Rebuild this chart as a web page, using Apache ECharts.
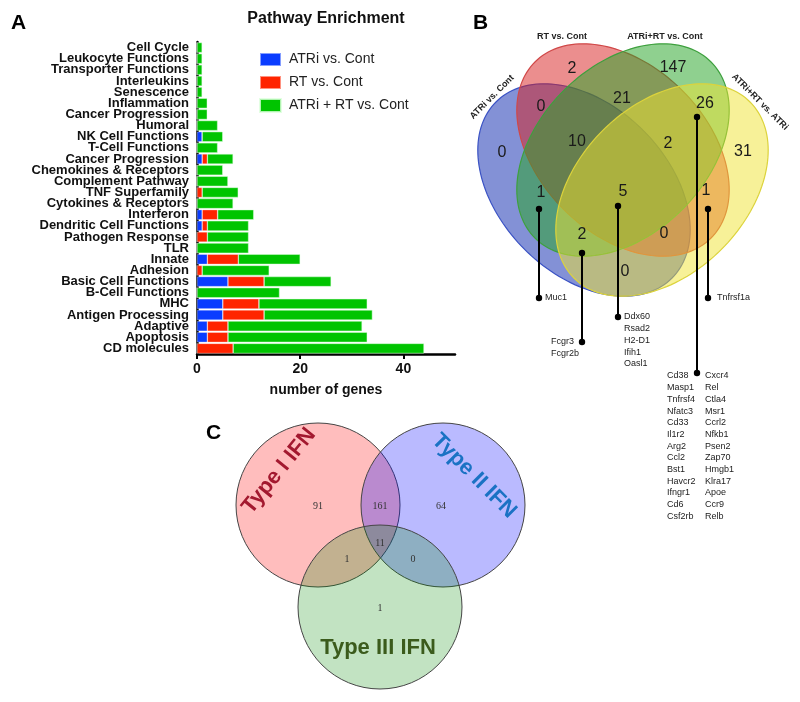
<!DOCTYPE html>
<html><head><meta charset="utf-8">
<script src="https://cdn.jsdelivr.net/npm/echarts@6/dist/echarts.min.js"></script>
<style>html,body{margin:0;padding:0;background:#fff}#c{width:800px;height:702px}</style>
</head><body><div id="c"></div>
<script>
// ---------- Panel A data ----------
const categories = ['Cell Cycle','Leukocyte Functions','Transporter Functions','Interleukins','Senescence','Inflammation','Cancer Progression','Humoral','NK Cell Functions','T-Cell Functions','Cancer Progression','Chemokines & Receptors','Complement Pathway','TNF Superfamily','Cytokines & Receptors','Interferon','Dendritic Cell Functions','Pathogen Response','TLR','Innate','Adhesion','Basic Cell Functions','B-Cell Functions','MHC','Antigen Processing','Adaptive','Apoptosis','CD molecules'];
const atriVsCont  = [0,0,0,0,0,0,0,0,1,0,1,0,0,0,0,1,1,0,0,2,0,6,0,5,5,2,2,0];
const rtVsCont    = [0,0,0,0,0,0,0,0,0,0,1,0,0,1,0,3,1,2,0,6,1,7,0,7,8,4,4,7];
const comboVsCont = [1,1,1,1,1,2,2,4,4,4,5,5,6,7,7,7,8,8,10,12,13,13,16,21,21,26,27,37];
const seriesNames = ['ATRi vs. Cont','RT vs. Cont','ATRi + RT vs. Cont'];
const xTicks = [0,20,40];

// ---------- Panel B data ----------
const vennBSets = ['ATRi vs. Cont','RT vs. Cont','ATRi+RT vs. Cont','ATRi+RT vs. ATRi'];
const vennBRegions = ['A','B','C','D','AB','BC','CD','ABC','BCD','AC','ABCD','BD','ACD','ABD','AD'];
const vennBCounts  = [0,2,147,31,0,21,26,10,2,1,5,1,2,0,0];
const genesAC   = ['Muc1'];
const genesACD  = ['Fcgr3','Fcgr2b'];
const genesABCD = ['Ddx60','Rsad2','H2-D1','Ifih1','Oasl1'];
const genesBD   = ['Tnfrsf1a'];
const genesCD   = ['Cd38','Masp1','Tnfrsf4','Nfatc3','Cd33','Il1r2','Arg2','Ccl2','Bst1','Havcr2','Ifngr1','Cd6','Csf2rb',
                   'Cxcr4','Rel','Ctla4','Msr1','Ccrl2','Nfkb1','Psen2','Zap70','Hmgb1','Klra17','Apoe','Ccr9','Relb'];

// ---------- Panel C data ----------
const vennCSets = ['Type I IFN','Type II IFN','Type III IFN'];
const vennCRegions = ['I','II','I&II','I&II&III','I&III','II&III','III'];
const vennCCounts  = [91,64,161,11,1,0,1];

// ---------- layout (diagram geometry, not data) ----------
const FONT = '"Liberation Sans", Arial, Helvetica, sans-serif';
const ellB = [ // cx, cy, a, b, angle, styleIdx   (panel-B local units)
  [124,190,124.5,84,45,0],[163,150,124.5,84,45,1],[163,150,124.5,84,-45,2],[202,190,124.5,84,-45,3]];
const ellBFill = ['rgba(30,55,180,0.55)','rgba(215,30,30,0.5)','rgba(40,165,40,0.52)','rgba(240,228,50,0.5)'];
const ellBStroke = ['#3a52c4','#d04848','#3ea03e','#dcd33c'];
const vennBRegionPos = {A:[42,153],B:[112,69],C:[213,68],D:[283,152],AB:[81,107],BC:[162,99],CD:[245,104],ABC:[117,142],BCD:[208,144],AC:[81,193],ABCD:[163,192],BD:[246,191],ACD:[122,235],ABD:[204,234],AD:[165,272]};
const vennBSetLabelPos = [[32,97,45],[102,37,0],[205,37,0],[300,102,-45]];
const leaders = [
  {x:79, y0:209, y1:298, genes:genesAC, lx:85, ly:298, align:'left'},
  {x:122, y0:253, y1:342, genes:genesACD, lx:91, ly:342, align:'left'},
  {x:158, y0:206, y1:317, genes:genesABCD, lx:164, ly:317, align:'left'},
  {x:248, y0:209, y1:298, genes:genesBD, lx:257, ly:298, align:'left'},
  {x:237, y0:117, y1:373, genes:genesCD, lx:207, ly:376, align:'cols'}
];
const circC = [[118,105,82,0],[243,105,82,1],[180,207,82,2]];
const circCFill = ['rgba(255,0,0,0.26)','rgba(0,0,255,0.27)','rgba(0,140,0,0.24)'];
const vennCRegionPos = {'I':[118,106],'II':[241,106],'I&II':[180,106],'I&II&III':[180,143],'I&III':[147,159],'II&III':[213,159],'III':[180,208]};
const vennCSetLabelPos = [[79,71,51,'#a3192f'],[274,76,-45,'#1a72c4'],[178,248,0,'#3b5b1c']];

const chart = echarts.init(document.getElementById('c'));

function ellipseRender(params, api){
  const cx=api.value(0), cy=api.value(1), a=api.value(2), b=api.value(3), ang=api.value(4)*Math.PI/180, s=api.value(5);
  const pts=[];
  for(let i=0;i<160;i++){const t=i/160*2*Math.PI;const ex=a*Math.cos(t),ey=b*Math.sin(t);
    pts.push(api.coord([cx+ex*Math.cos(ang)-ey*Math.sin(ang), cy+ex*Math.sin(ang)+ey*Math.cos(ang)]));}
  return {type:'polygon',shape:{points:pts},style:{fill:ellBFill[s],stroke:ellBStroke[s],lineWidth:1.2}};
}
function circleRender(params, api){
  const c=api.coord([api.value(0),api.value(1)]);
  const e=api.coord([api.value(0)+api.value(2),api.value(1)]);
  return {type:'circle',shape:{cx:c[0],cy:c[1],r:e[0]-c[0]},style:{fill:circCFill[api.value(3)],stroke:'#444',lineWidth:1}};
}

const bNumData = vennBRegions.map((k,i)=>[vennBRegionPos[k][0],vennBRegionPos[k][1],vennBCounts[i]]);
const cNumData = vennCRegions.map((k,i)=>[vennCRegionPos[k][0],vennCRegionPos[k][1],vennCCounts[i]]);

const option = {
  animation:false,
  title:[
    {text:'A',left:11,top:13,padding:0,textStyle:{fontFamily:FONT,fontSize:21,fontWeight:'bold',color:'#000'}},
    {text:'Pathway Enrichment',left:326,textAlign:'center',top:11,padding:0,textStyle:{fontFamily:FONT,fontSize:16,fontWeight:'bold',color:'#111'}},
    {text:'B',left:473,top:13,padding:0,textStyle:{fontFamily:FONT,fontSize:21,fontWeight:'bold',color:'#000'}},
    {text:'C',left:206,top:423,padding:0,textStyle:{fontFamily:FONT,fontSize:21,fontWeight:'bold',color:'#000'}}
  ],
  legend:{data:seriesNames,orient:'vertical',left:259,top:52,itemWidth:21,itemHeight:13,itemGap:8,icon:'rect',padding:0,
    textStyle:{fontFamily:FONT,fontSize:14,color:'#222',padding:[0,0,0,3]}},
  grid:[
    {left:197,top:42,width:258,height:312},
    {left:460,top:0,width:340,height:400},
    {left:200,top:400,width:340,height:300}
  ],
  xAxis:[
    {type:'value',gridIndex:0,min:0,max:50,
      axisLine:{show:true,lineStyle:{color:'#000',width:2.5}},
      axisTick:{show:true,customValues:xTicks,length:5,lineStyle:{color:'#000',width:2}},
      axisLabel:{customValues:xTicks,fontFamily:FONT,fontSize:14,fontWeight:'bold',color:'#111',margin:8},
      splitLine:{show:false},
      name:'number of genes',nameLocation:'middle',nameGap:29,
      nameTextStyle:{fontFamily:FONT,fontSize:14,fontWeight:'bold',color:'#111'}},
    {type:'value',gridIndex:1,min:0,max:340,show:false},
    {type:'value',gridIndex:2,min:0,max:340,show:false}
  ],
  yAxis:[
    {type:'category',gridIndex:0,data:categories,inverse:true,
      axisLine:{lineStyle:{color:'#000',width:2.5}},
      axisTick:{alignWithLabel:true,length:6,lineStyle:{color:'#000',width:2}},
      axisLabel:{interval:0,fontFamily:FONT,fontSize:13,fontWeight:'bold',color:'#111',margin:8}},
    {type:'value',gridIndex:1,min:0,max:400,inverse:true,show:false},
    {type:'value',gridIndex:2,min:0,max:300,inverse:true,show:false}
  ],
  series:[
    {name:seriesNames[0],type:'bar',stack:'g',data:atriVsCont,barCategoryGap:'9%',itemStyle:{color:'#0a3cff',borderColor:'rgba(255,255,255,0.5)',borderWidth:0.6}},
    {name:seriesNames[1],type:'bar',stack:'g',data:rtVsCont,barCategoryGap:'9%',itemStyle:{color:'#ff2400',borderColor:'rgba(255,255,255,0.5)',borderWidth:0.6}},
    {name:seriesNames[2],type:'bar',stack:'g',data:comboVsCont,barCategoryGap:'9%',itemStyle:{color:'#00c400',borderColor:'rgba(220,255,220,0.8)',borderWidth:0.6}},
    {type:'custom',xAxisIndex:1,yAxisIndex:1,data:ellB,renderItem:ellipseRender,silent:true},
    {type:'custom',xAxisIndex:1,yAxisIndex:1,data:vennBSetLabelPos.map((p,i)=>[p[0],p[1],p[2],i]),silent:true,z:5,
      renderItem:(p,api)=>{const c=api.coord([api.value(0),api.value(1)]);
        return {type:'text',x:c[0],y:c[1],rotation:api.value(2)*Math.PI/180,
          style:{text:vennBSets[api.value(3)],fill:'#222',font:'bold 9px '+FONT,align:'center',verticalAlign:'middle'}};}},
    {type:'custom',xAxisIndex:1,yAxisIndex:1,data:bNumData,silent:true,z:5,
      renderItem:(p,api)=>{const c=api.coord([api.value(0),api.value(1)]);
        return {type:'text',x:c[0],y:c[1],style:{text:String(api.value(2)),fill:'#1a1a1a',font:'16px '+FONT,align:'center',verticalAlign:'middle'}};}},
    {type:'custom',xAxisIndex:1,yAxisIndex:1,data:leaders.map((l,i)=>[l.x,l.y0,l.y1,i]),silent:true,z:6,
      renderItem:(p,api)=>{
        const L=leaders[api.value(3)];
        const a=api.coord([api.value(0),api.value(1)]), b=api.coord([api.value(0),api.value(2)]);
        const ch=[
          {type:'line',shape:{x1:a[0],y1:a[1],x2:b[0],y2:b[1]},style:{stroke:'#000',lineWidth:2}},
          {type:'circle',shape:{cx:a[0],cy:a[1],r:3.2},style:{fill:'#000'}},
          {type:'circle',shape:{cx:b[0],cy:b[1],r:3.2},style:{fill:'#000'}}];
        const step=11.7;
        if(L.align==='cols'){
          const half=Math.ceil(L.genes.length/2);
          L.genes.forEach((g,k)=>{const col=k<half?0:1,row=col?k-half:k;
            const q=api.coord([L.lx+col*38,L.ly+row*step]);
            ch.push({type:'text',x:q[0],y:q[1],style:{text:g,fill:'#222',font:'9px '+FONT,align:'left',verticalAlign:'middle'}});});
        } else {
          L.genes.forEach((g,k)=>{const q=api.coord([L.lx,L.ly+k*step]);
            ch.push({type:'text',x:q[0],y:q[1],style:{text:g,fill:'#222',font:'9px '+FONT,align:'left',verticalAlign:'middle'}});});
        }
        return {type:'group',children:ch};
      }},
    {type:'custom',xAxisIndex:2,yAxisIndex:2,data:circC,renderItem:circleRender,silent:true},
    {type:'custom',xAxisIndex:2,yAxisIndex:2,data:cNumData,silent:true,z:5,
      renderItem:(p,api)=>{const c=api.coord([api.value(0),api.value(1)]);
        return {type:'text',x:c[0],y:c[1],style:{text:String(api.value(2)),fill:'#333',font:'10px "Liberation Serif", "Times New Roman", serif',align:'center',verticalAlign:'middle'}};}},
    {type:'custom',xAxisIndex:2,yAxisIndex:2,data:vennCSetLabelPos.map((q,i)=>[q[0],q[1],q[2],i]),silent:true,z:5,
      renderItem:(p,api)=>{const c=api.coord([api.value(0),api.value(1)]);const i=api.value(3);
        return {type:'text',x:c[0],y:c[1],rotation:api.value(2)*Math.PI/180,
          style:{text:vennCSets[i],fill:vennCSetLabelPos[i][3],font:'bold 22px '+FONT,align:'center',verticalAlign:'middle'}};}}
  ]
};
chart.setOption(option);
</script></body></html>
